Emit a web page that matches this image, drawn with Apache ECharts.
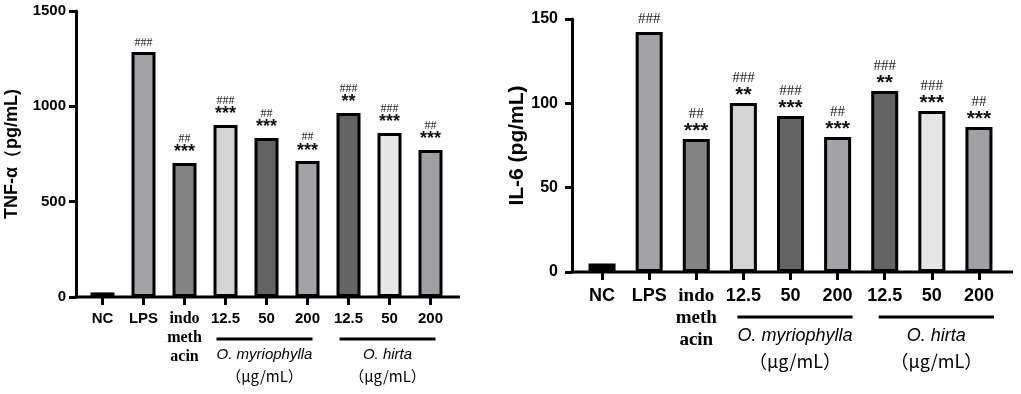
<!DOCTYPE html>
<html><head><meta charset="utf-8">
<script src="https://cdn.jsdelivr.net/npm/echarts@6/dist/echarts.min.js"></script>
<style>html,body{margin:0;padding:0;background:#fff}#c{width:1021px;height:394px}</style>
</head><body><div id="c"></div>
<script>
// ---- data ----
const categories = ['NC','LPS','indo','my12.5','my50','my200','hi12.5','hi50','hi200'];
const tickLabels = ['NC','LPS','indo\nmeth\nacin','12.5','50','200','12.5','50','200'];
const tnfValues = [24, 1285, 703, 902, 834, 713, 965, 860, 771];
const il6Values = [5, 142.3, 78.8, 100.2, 92.5, 80, 107.3, 95.4, 86];
const tnfHashes = ['', '###', '##', '###', '##', '##', '###', '###', '##'];
const tnfStars  = ['', '', '***', '***', '***', '***', '**', '***', '***'];
const il6Hashes = ['', '###', '##', '###', '###', '##', '###', '###', '##'];
const il6Stars  = ['', '', '***', '**', '***', '***', '**', '***', '***'];
const barColors = ['#000000','#a3a3a6','#838383','#d4d4d4','#636363','#a3a3a6','#646464','#e6e6e6','#a0a0a3'];
const groupNames = ['O. myriophylla', 'O. hirta'];
const unitLabel = '（μg/mL）';

const chart = echarts.init(document.getElementById('c'), null, {renderer:'canvas'});
const F = '"Liberation Sans", Arial, sans-serif';

const L = {left:82, top:11, width:369, height:286};
const R = {left:578.5, top:19, width:424, height:253};

function labelFmt(hashes, stars){
  return p => {
    const h = hashes[p.dataIndex], s = stars[p.dataIndex];
    if (!h && !s) return '';
    if (!s) return '{h|' + h + '}';
    return '{h|' + h + '}\n{s|' + s + '}';
  };
}
function xAxisCfg(gi, fs, lh, margin){
  return {
    type:'category', gridIndex:gi, data:categories,
    axisLine:{show:false},
    axisTick:{show:true, alignWithLabel:true, length:8, lineStyle:{color:'#000', width:3}},
    axisLabel:{
      interval:0, margin:margin, color:'#000',
      formatter:(v, i) => i === 2 ? '{serif|' + tickLabels[i] + '}' : '{b|' + tickLabels[i] + '}',
      rich:{
        b:{fontFamily:F, fontWeight:'bold', fontSize:fs, lineHeight:lh, color:'#000'},
        serif:{fontFamily:'"Liberation Serif", serif', fontWeight:'bold', fontSize:fs+1, lineHeight:lh, color:'#000'}
      },
      verticalAlign:'top'
    }
  };
}
function yAxisCfg(gi, max, interval, name, fs, nfs, nameGap, margin, off){
  return {
    type:'value', gridIndex:gi, min:0, max:max, interval:interval, offset:off,
    name:name, nameLocation:'middle', nameRotate:90, nameGap:nameGap,
    nameTextStyle:{fontFamily:F, fontWeight:'bold', fontSize:nfs, color:'#000'},
    axisLine:{show:true, lineStyle:{color:'#000', width:3}},
    axisTick:{show:true, length:7, lineStyle:{color:'#000', width:3}},
    axisLabel:{fontFamily:F, fontWeight:'bold', fontSize:fs, color:'#000', margin:margin, formatter:v => String(v)},
    splitLine:{show:false}
  };
}
function barSeries(gi, values, hashes, stars, bw, hfs, sfs, hlh, slh, distStar, distHash, spad){
  return {
    type:'bar', xAxisIndex:gi, yAxisIndex:gi, barWidth:bw,
    data: values.map((v,i) => ({value:v, itemStyle:{color:barColors[i]},
      label:{distance: stars[i] ? distStar : distHash}})),
    itemStyle:{borderColor:'#000', borderWidth:3},
    label:{show:true, position:'top', formatter:labelFmt(hashes, stars),
      rich:{
        h:{fontFamily:'"Liberation Serif", serif', fontSize:hfs, lineHeight:hlh, color:'#222'},
        s:{fontFamily:F, fontWeight:'bold', fontSize:sfs, lineHeight:slh, color:'#111', padding:spad}
      }},
    silent:true, animation:false
  };
}

chart.setOption({
  animation:false,
  grid:[ Object.assign({containLabel:false}, L), Object.assign({containLabel:false}, R) ],
  xAxis:[ xAxisCfg(0, 15, 19, 12), xAxisCfg(1, 18, 22, 13) ],
  yAxis:[ yAxisCfg(0, 1500, 500, 'TNF-α（pg/mL)', 15, 18, 55, 10, 6),
          yAxisCfg(1, 150, 50, 'IL-6 (pg/mL)', 16, 21, 36, 14, 6.5) ],
  series:[ barSeries(0, tnfValues, tnfHashes, tnfStars, 24, 12, 18, 11, 10, 9, 4, [7,0,0,0]),
           barSeries(1, il6Values, il6Hashes, il6Stars, 27, 15, 21, 14, 11, 7, 6, [10,0,0,0]) ]
});

function decor(){
  const g = [];
  const specs = [
    {gi:0, axisX:76, endX:460, lineY:339, textY:347, unitY:369, fs:15, ufs:15, off:[-9,5], groups:[[3,5],[6,8]]},
    {gi:1, axisX:572, endX:1013, lineY:317, textY:327, unitY:352, fs:18, ufs:18, off:[-6,15], groups:[[3,5],[6,8]]}
  ];
  specs.forEach(s => {
    const y0 = chart.convertToPixel({yAxisIndex:s.gi}, 0);
    g.push({type:'line', shape:{x1:s.axisX-1.5, y1:y0, x2:s.endX, y2:y0}, style:{stroke:'#000', lineWidth:3}, silent:true});
    s.groups.forEach((gr, k) => {
      const xa = chart.convertToPixel({xAxisIndex:s.gi}, categories[gr[0]]);
      const xb = chart.convertToPixel({xAxisIndex:s.gi}, categories[gr[1]]);
      const x1 = xa + s.off[0], x2 = xb + s.off[1], cx = (x1 + x2) / 2;
      g.push({type:'line', shape:{x1:x1, y1:s.lineY, x2:x2, y2:s.lineY}, style:{stroke:'#000', lineWidth:3}, silent:true});
      g.push({type:'text', x:cx, y:s.textY, style:{text:groupNames[k], fontFamily:F, fontStyle:'italic', fontSize:s.fs, fill:'#000', textAlign:'center', textVerticalAlign:'top'}, silent:true});
      g.push({type:'text', x:cx, y:s.unitY, style:{text:unitLabel, fontFamily:'"Noto Sans CJK SC", sans-serif', fontSize:s.ufs, fill:'#000', textAlign:'center', textVerticalAlign:'top'}, silent:true});
    });
  });
  chart.setOption({graphic:g});
}
decor();
</script></body></html>
